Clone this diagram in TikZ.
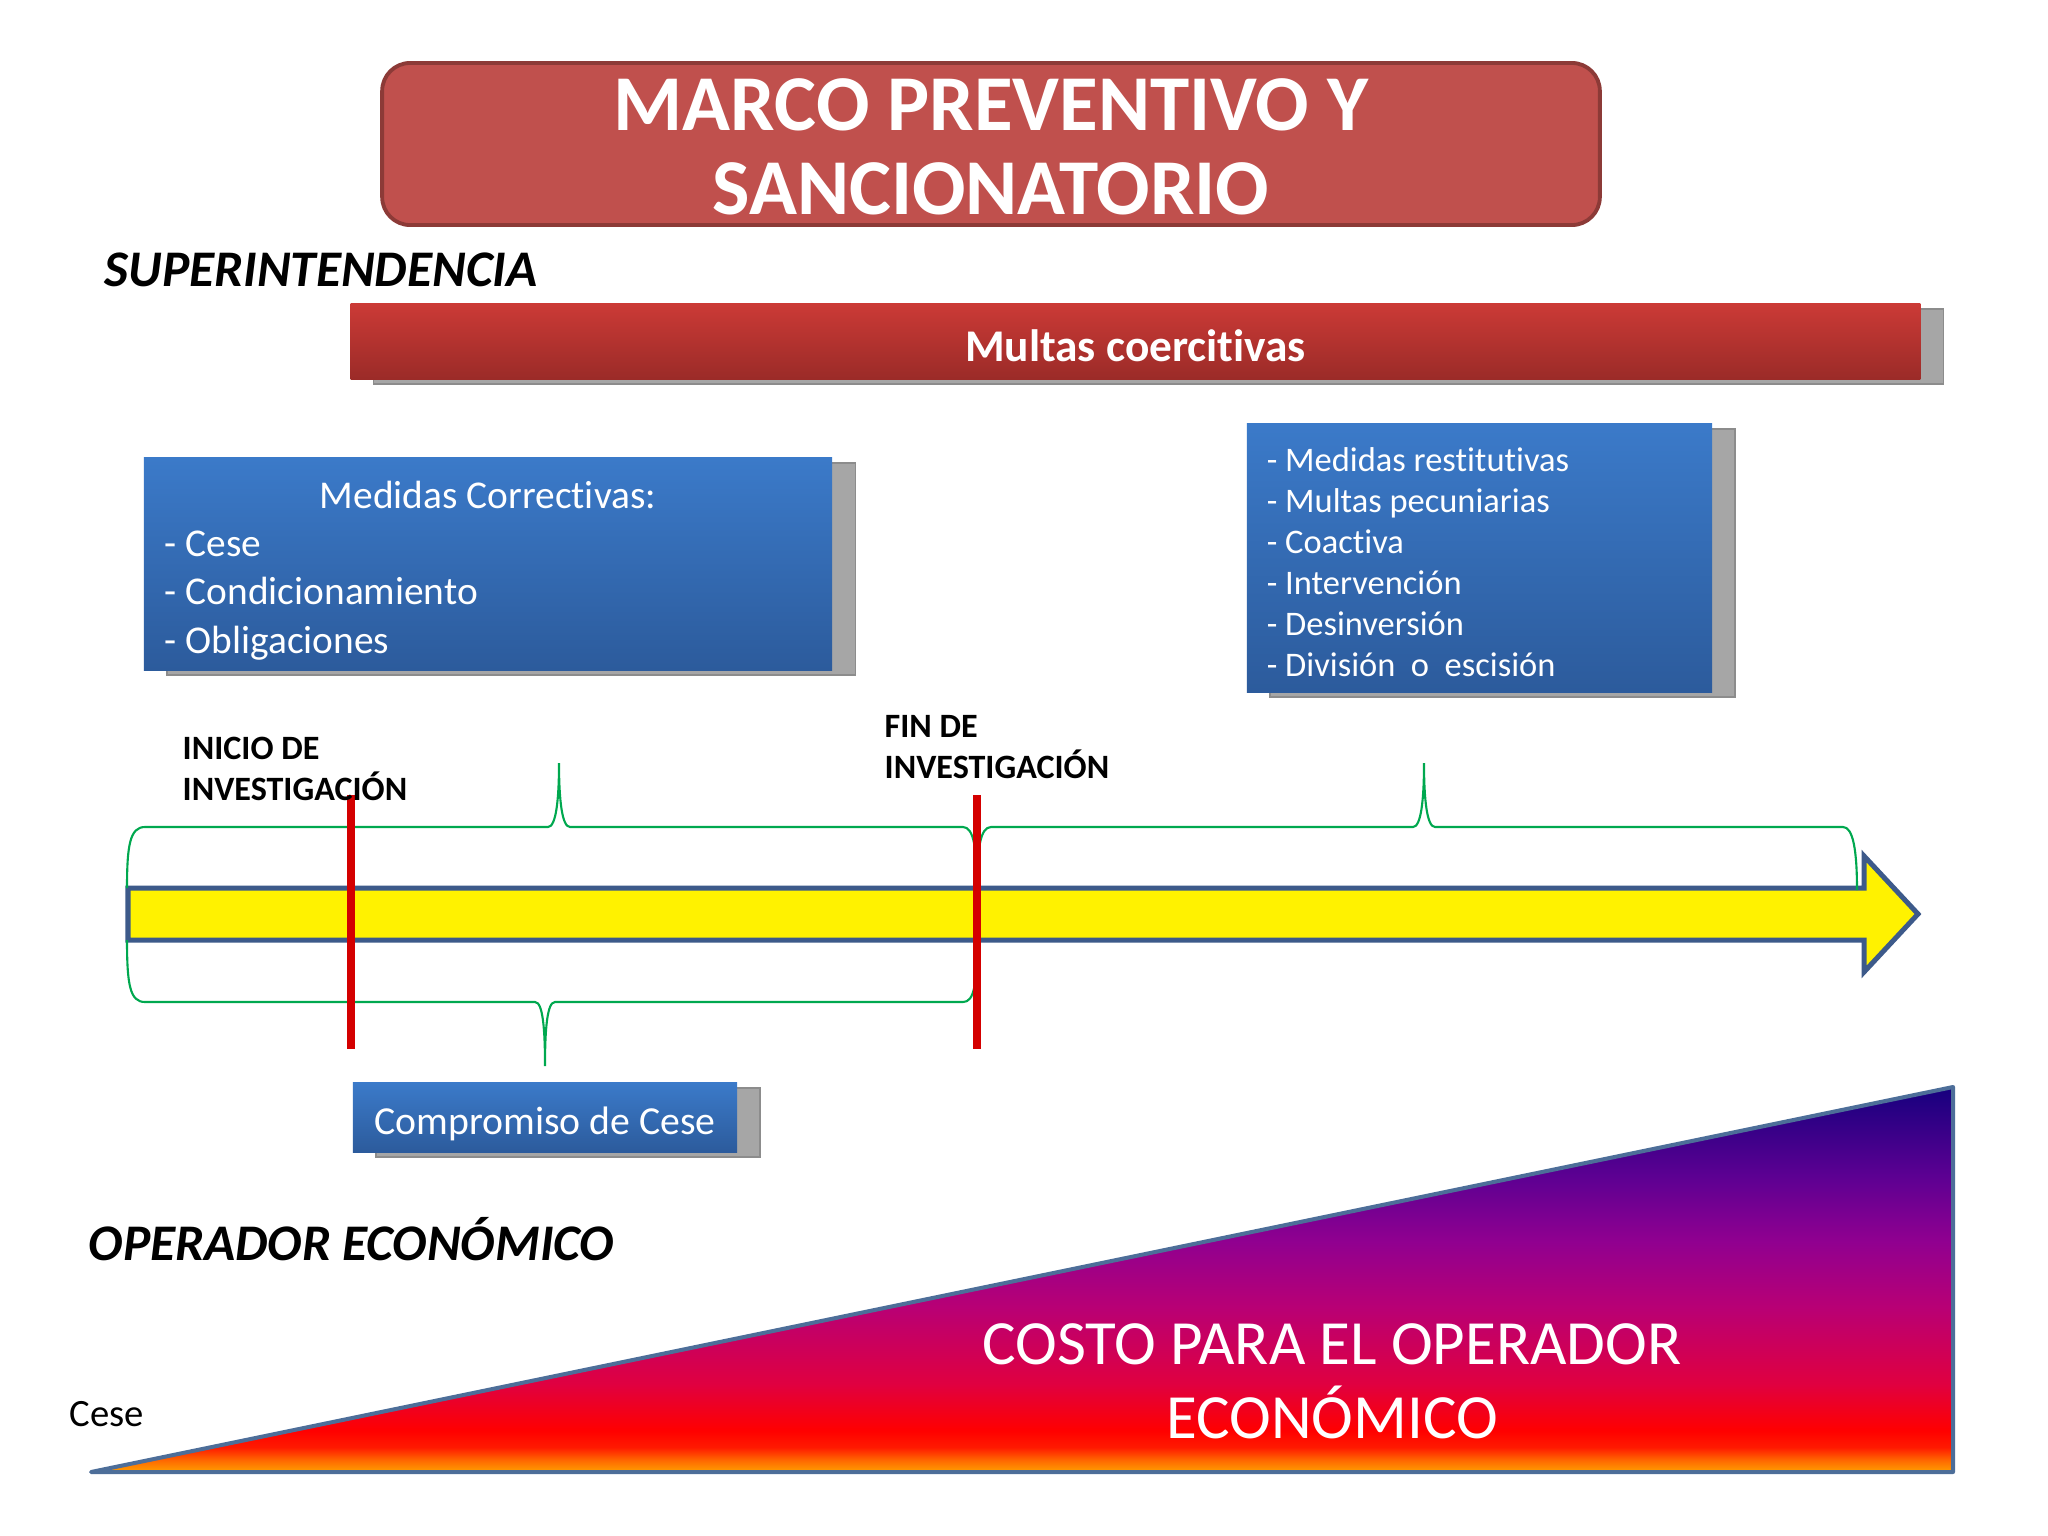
\documentclass[tikz,border=0pt]{standalone}
\usepackage{fontspec}
\setmainfont{Carlito}[Ligatures=NoCommon]
\usepackage{xcolor}
\usetikzlibrary{shadows}

\definecolor{tituloFondo}{HTML}{C0504D}
\definecolor{tituloBorde}{HTML}{8C3A37}
\definecolor{multasArriba}{HTML}{CB3A36}
\definecolor{multasAbajo}{HTML}{9B2B28}
\definecolor{azulArriba}{HTML}{3B7AC9}
\definecolor{azulAbajo}{HTML}{2C5B9C}
\definecolor{sombra}{HTML}{A6A6A6}
\definecolor{sombraBorde}{HTML}{8C8C8C}
\definecolor{flechaBorde}{HTML}{3D5A8A}
\definecolor{llaveVerde}{HTML}{00A84F}
\definecolor{marcaRoja}{HTML}{D40000}
\definecolor{costoBorde}{HTML}{4D6E99}

\definecolor{costoA}{HTML}{FFA000}
\definecolor{costoB}{HTML}{FF6A00}
\definecolor{costoC}{HTML}{FF1A00}
\definecolor{costoD}{HTML}{FF0000}
\definecolor{costoE}{HTML}{E00040}
\definecolor{costoF}{HTML}{B80075}
\definecolor{costoG}{HTML}{900090}
\definecolor{costoH}{HTML}{5C0092}
\definecolor{costoI}{HTML}{16007E}

\pgfdeclareverticalshading{costo}{100bp}{
	color(0bp)=(costoA); color(25bp)=(costoA); color(26.5bp)=(costoB);
	color(28.2bp)=(costoC); color(30.4bp)=(costoD); color(36.4bp)=(costoE);
	color(46.5bp)=(costoF); color(55bp)=(costoG); color(63.5bp)=(costoH);
	color(75bp)=(costoI); color(100bp)=(costoI)}

% baja el texto sin cambiar la caja
\newcommand{\bajar}[2]{\raisebox{-#1}[\height][\depth]{#2}}

\tikzset{
	titulo/.style={rounded corners=0.28cm, fill=tituloFondo, draw=tituloBorde, line width=1.1pt,
		minimum width=12.17cm, minimum height=1.62cm, text=white, align=center,
		font=\fontsize{22.5}{23.9}\selectfont\bfseries},
	rotulo/.style={inner sep=0, font=\fontsize{14.6}{17}\selectfont\bfseries\itshape},
	caja/.style={general shadow={fill=sombra, draw=sombraBorde, line width=0.4pt,
		shadow xshift=0.23cm, shadow yshift=-0.05cm}},
	barra/.style={caja, top color=multasArriba, bottom color=multasAbajo,
		minimum width=15.69cm, minimum height=0.75cm, text=white,
		font=\fontsize{12.9}{15}\selectfont\bfseries},
	cajaazul/.style={caja, top color=azulArriba, bottom color=azulAbajo, text=white},
	flecha/.style={fill=yellow, draw=flechaBorde, line width=0.05cm},
	llave/.style={draw=llaveVerde, line width=0.6pt},
	marca/.style={draw=marcaRoja, line width=0.08cm},
	etiqueta/.style={anchor=west, align=left, inner sep=0,
		font=\fontsize{9.7}{11.66}\selectfont\bfseries}
}

\begin{document}
\begin{tikzpicture}[x=0.01cm,y=-0.01cm]
	\useasboundingbox (0,0) rectangle (2048,1536);
	\fill[white] (0,0) rectangle (2048,1536);

	% parte superior
	\node[titulo] (titulo) at (991,144) {\bajar{0.03cm}{MARCO PREVENTIVO Y}\\\bajar{0.03cm}{SANCIONATORIO}};
	\node[rotulo,anchor=west] (superintendencia) at (104,270) {SUPERINTENDENCIA};
	\node[barra] (multas) at (1135.5,341.5) {\bajar{0.04cm}{Multas coercitivas}};

	\node[cajaazul,minimum width=6.88cm,minimum height=2.12cm,font=\fontsize{11.2}{13.7}\selectfont] (correctivas) at (488,564)
	{
		\bajar{0.065cm}{\begin{minipage}{6.46cm}
			\centering Medidas Correctivas:\par
			\raggedright
			- Cese\\
			- Condicionamiento\\
			- Obligaciones
		\end{minipage}}
	};

	\node[cajaazul,minimum width=4.65cm,minimum height=2.68cm,font=\fontsize{9.8}{11.66}\selectfont] (sanciones) at (1479.5,558)
	{
		\bajar{0.04cm}{\begin{minipage}{4.25cm}
			\raggedright
			- Medidas restitutivas\\
			- Multas pecuniarias\\
			- Coactiva\\
			- Intervención\\
			- Desinversión\\
			- División~ o~ escisión
		\end{minipage}}
	};

	% linea de tiempo
	\draw[flecha] (128,888) -- (1864,888) -- (1864,856) -- (1918,914) -- (1864,972) -- (1864,940) -- (128,940) -- cycle;

	\draw[llave] (127,888) .. controls (127,845) and (130,827) .. (145,827) -- (548,827)
		.. controls (556,827) and (559,800) .. (559,763) .. controls (559,800) and (562,827) .. (570,827)
		-- (963,827) .. controls (974,827) and (977,850) .. (977,890);
	\draw[llave] (977,890) .. controls (977,850) and (980,827) .. (991,827) -- (1413,827)
		.. controls (1421,827) and (1424,800) .. (1424,763) .. controls (1424,800) and (1427,827) .. (1435,827)
		-- (1843,827) .. controls (1853,827) and (1857,850) .. (1857,890);
	\draw[llave] (127,940) .. controls (127,985) and (130,1002) .. (145,1002) -- (535,1002)
		.. controls (543,1002) and (545,1030) .. (545,1066) .. controls (545,1030) and (547,1002) .. (555,1002)
		-- (963,1002) .. controls (974,1002) and (977,985) .. (977,940);

	\draw[marca] (351,795) -- (351,1049);
	\draw[marca] (977,795) -- (977,1049);

	\node[etiqueta] (inicio) at (182,769) {INICIO DE\\INVESTIGACIÓN};
	\node[etiqueta] (fin) at (884,747.5) {FIN DE\\INVESTIGACIÓN};

	\node[cajaazul,minimum width=3.84cm,minimum height=0.69cm,font=\fontsize{11.3}{13.5}\selectfont] (compromiso) at (545,1117.5) {\bajar{0.06cm}{Compromiso de Cese}};

	% parte inferior
	\node[rotulo,anchor=base west] (operador) at (88,1260) {OPERADOR ECONÓMICO};
	\node[anchor=west,inner sep=0,font=\fontsize{11}{13}\selectfont] (cese) at (69,1414) {Cese};

	\shadedraw[shading=costo,draw=costoBorde,line width=0.04cm,line join=round] (91,1472) -- (1953,1087) -- (1953,1472) -- cycle;
	\node[text=white,align=center,font=\fontsize{17.9}{21}\selectfont] (costo) at (1332,1381) {COSTO PARA EL OPERADOR\\ECONÓMICO};
\end{tikzpicture}
\end{document}
